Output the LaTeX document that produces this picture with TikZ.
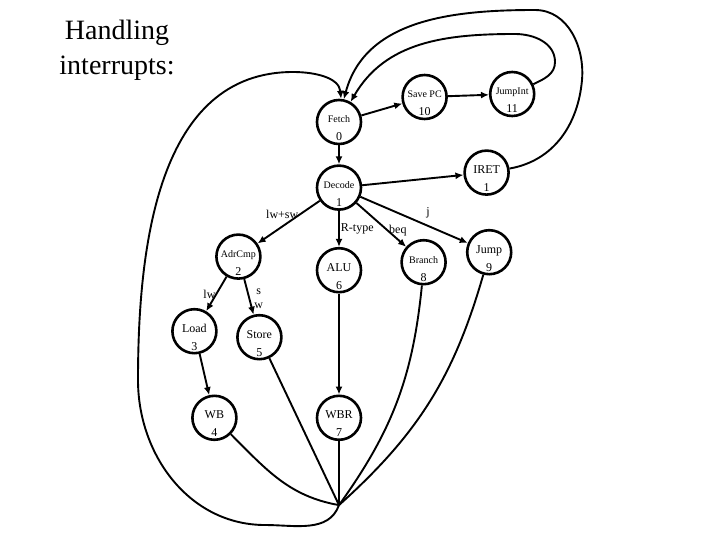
\documentclass[tikz,border=0pt]{standalone}
\usepackage{fontspec}
\setmainfont{Liberation Serif}
\usetikzlibrary{positioning,arrows.meta}
\newcommand{\stlbl}[2]{\raisebox{-19pt}[0pt][0pt]{\vbox{\baselineskip=18pt\halign{\hfil##\hfil\cr#1\cr#2\cr}}}}
\newcommand{\smname}{\fontsize{10}{12}\selectfont}

\begin{document}
\begin{tikzpicture}[->,>={Latex[length=8pt,width=7pt]},line width=1.9pt,x=1pt,y=1pt,
	st/.style={circle,draw,line width=2.6pt,minimum size=44pt,inner sep=0pt,font=\fontsize{12}{14}\selectfont},
	lbl/.style={font=\large,inner sep=0pt}]
		\useasboundingbox (0,0) rectangle (720,-540);
		\node[align=center,font=\fontsize{28}{35}\selectfont] (title) at (117,-50) {Handling\\interrupts:};

		\node[st] (fetch) at (339,-122) {\stlbl{\smname Fetch}{0}};
		\node[st] (savepc) [right=39pt of fetch,yshift=25pt] {\stlbl{\smname Save PC}{10}};
		\node[st] (jumpint) [right=41pt of savepc,yshift=3pt] {\stlbl{\smname JumpInt}{11}};
		\node[st] (decode) [below=19pt of fetch] {\stlbl{\smname Decode}{1}};
		\node[st] (iret) [right=101pt of decode,yshift=15pt] {\stlbl{IRET}{1}};
		\node[st] (adrcmp) [left=54pt of decode,yshift=-69pt] {\stlbl{\smname AdrCmp}{2}};
		\node[st] (alu) [below=36pt of decode] {\stlbl{ALU}{6}};
		\node[st] (branch) [right=38pt of alu,yshift=8pt] {\stlbl{\smname Branch}{8}};
		\node[st] (jump) [right=19pt of branch,yshift=10pt] {\stlbl{Jump}{9}};
		\node[st] (load) [below=28pt of adrcmp,xshift=-44pt] {\stlbl{Load}{3}};
		\node[st] (store) [below=34pt of adrcmp,xshift=21pt] {\stlbl{Store}{5}};
		\node[st] (wb) [below=40pt of load,xshift=20pt] {\stlbl{WB}{4}};
		\node[st] (wbr) [below=101pt of alu] {\stlbl{WBR}{7}};
		\coordinate[below=64pt of wbr] (jn);

		\draw (fetch) -- (savepc);
		\draw (savepc) -- (jumpint);
		\draw (fetch) -- (decode);
		\draw (decode) -- (iret);
		\draw (decode) -- node[lbl,pos=0.33,anchor=east]{lw+sw} (adrcmp);
		\draw (decode) -- node[lbl,pos=0.5,anchor=west,inner sep=1pt]{R-type} (alu);
		\draw (decode) -- node[lbl,pos=0.64,anchor=west]{beq} (branch);
		\draw (decode) -- node[lbl,pos=0.63,above=7pt]{j} (jump);
		\draw (adrcmp) -- node[lbl,pos=0.5,anchor=east]{lw} (load);
		\draw (adrcmp) -- node[lbl,pos=0.55,right=4pt,align=center]{s\\w} (store);
		\draw (load) -- (wb);
		\draw (alu) -- (wbr);

		% back to fetch
		\draw[-] (wb) to[out=-45,in=170] (jn);
		\draw[-] (store) -- (jn);
		\draw[-] (wbr) -- (jn);
		\draw[-] (branch) to[bend left=15] (jn);
		\draw[-] (jump) to[bend left=16] (jn);
		\draw (jn) to[out=-110,in=0] (265,-525) to[out=180,in=-90] (138,-380)
			to[out=90,in=180] (293,-72) to[out=0,in=95] (fetch.85);
		\draw (jumpint.25) to[out=25,in=-90] (555,-62) to[out=90,in=0] (515,-34)
			to[out=180,in=60] (fetch.60);
		\draw (iret.10) to[out=10,in=-95] (582,-80) to[out=85,in=0] (535,-10)
			to[out=180,in=75] (fetch.78);
\end{tikzpicture}
\end{document}
